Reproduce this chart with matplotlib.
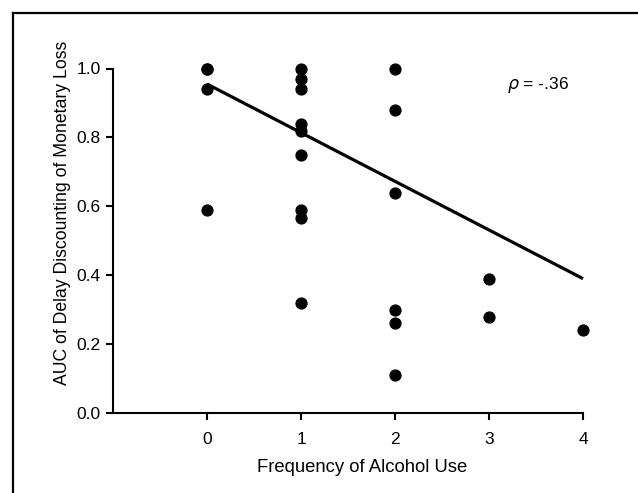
import matplotlib
matplotlib.use("Agg")
import matplotlib.pyplot as plt
from matplotlib.lines import Line2D

plt.rcParams['font.family'] = ['Liberation Sans', 'DejaVu Sans']

# Data
freq_x = [0, 0, 0, 0,
          1, 1, 1, 1, 1, 1, 1, 1, 1,
          2, 2, 2, 2, 2, 2,
          3, 3,
          4]
auc_y = [1.00, 1.00, 0.94, 0.59,
         1.00, 0.97, 0.94, 0.84, 0.82, 0.75, 0.59, 0.565, 0.32,
         1.00, 0.88, 0.64, 0.30, 0.26, 0.11,
         0.39, 0.28,
         0.24]
fit_x = [0, 4]
fit_y = [0.955, 0.39]
x_ticks = [0, 1, 2, 3, 4]
y_ticks = [0.0, 0.2, 0.4, 0.6, 0.8, 1.0]

fig = plt.figure(figsize=(6.38, 4.93), dpi=100)
ax = fig.add_axes([113/638, 80/493, 470/638, 344.5/493])

ax.plot(fit_x, fit_y, color='black', lw=2.3, solid_capstyle='butt', zorder=2, clip_on=False)
ax.plot(freq_x, auc_y, 'o', color='black', ms=7.8, zorder=3, clip_on=False)

ax.set_xlim(-1, 4)
ax.set_ylim(0, 1.0)
ax.set_xticks(x_ticks)
ax.set_yticks(y_ticks)
ax.set_yticklabels([f"{v:.1f}" for v in y_ticks])
for s in ['top', 'right']:
    ax.spines[s].set_visible(False)
for s in ['left', 'bottom']:
    ax.spines[s].set_linewidth(1.5)
ax.tick_params(direction='out', length=5, width=1.5, labelsize=12.5, pad=4)
ax.tick_params(axis='x', pad=9)

ax.set_xlabel('Frequency of Alcohol Use', fontsize=13.3)
ax.set_ylabel('AUC of Delay Discounting of Monetary Loss', fontsize=12.7)
ax.xaxis.set_label_coords(0.53, -0.157)
ax.yaxis.set_label_coords(-0.108, 0.58)
ax.xaxis.label.set_va('center')
ax.yaxis.label.set_va('center')

ax.text(3.19, 0.952, r'$\rho$ = -.36', fontsize=12.5, ha='left', va='center')

# outer frame (left and top edges visible)
fig.add_artist(Line2D([12.5/638, 12.5/638], [0, 1 - 12.5/493], transform=fig.transFigure,
                      color='black', lw=1.6))
fig.add_artist(Line2D([12.5/638, 1], [1 - 12.5/493, 1 - 12.5/493], transform=fig.transFigure,
                      color='black', lw=1.6))

fig.savefig('out.png', dpi=100)
